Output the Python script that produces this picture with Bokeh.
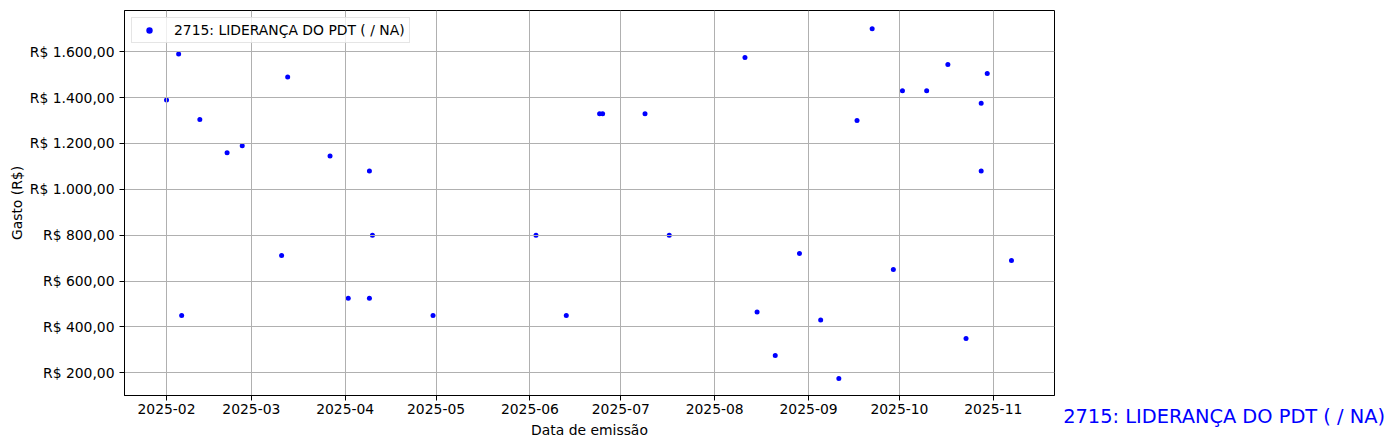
import pandas as pd
from bokeh.plotting import figure
from bokeh.layouts import row
from bokeh.models import (ColumnDataSource, FixedTicker, DatetimeTickFormatter, Range1d, Label)
from bokeh.embed import file_html
from bokeh.resources import INLINE

series_name = "2715: LIDERANÇA DO PDT ( / NA)"

dates = [
    "2025-02-01", "2025-02-05", "2025-02-06", "2025-02-12", "2025-02-21",
    "2025-02-26", "2025-03-11", "2025-03-13", "2025-03-27", "2025-04-02",
    "2025-04-09", "2025-04-09", "2025-04-10", "2025-04-30", "2025-06-03",
    "2025-06-13", "2025-06-24", "2025-06-25", "2025-07-09", "2025-07-17",
    "2025-08-11", "2025-08-15", "2025-08-21", "2025-08-29", "2025-09-05",
    "2025-09-11", "2025-09-17", "2025-09-22", "2025-09-29", "2025-10-02",
    "2025-10-10", "2025-10-17", "2025-10-23", "2025-10-28", "2025-10-28",
    "2025-10-30", "2025-11-07",
]
values = [
    1390, 1590, 450, 1305, 1160,
    1190, 712, 1490, 1145, 525,
    1080, 525, 800, 450, 800,
    450, 1330, 1330, 1330, 800,
    1575, 465, 275, 720, 430,
    175, 1300, 1700, 650, 1430,
    1430, 1545, 350, 1375, 1080,
    1505, 690,
]

x_tick_labels = ["2025-02", "2025-03", "2025-04", "2025-05", "2025-06",
                 "2025-07", "2025-08", "2025-09", "2025-10", "2025-11"]
y_ticks = [200, 400, 600, 800, 1000, 1200, 1400, 1600]
y_tick_labels = ["R$ 200,00", "R$ 400,00", "R$ 600,00", "R$ 800,00",
                 "R$ 1.000,00", "R$ 1.200,00", "R$ 1.400,00", "R$ 1.600,00"]

FONT = "DejaVu Sans"
FS = "13.9px"

src = ColumnDataSource(dict(x=pd.to_datetime(dates), y=values))

x_start = pd.Timestamp("2025-01-18 03:00")
x_end = pd.Timestamp("2025-11-21 05:00")

p = figure(
    width=1058, height=440,
    x_axis_type="datetime",
    x_range=Range1d(x_start, x_end),
    y_range=Range1d(101, 1780),
    output_backend="svg", toolbar_location=None,
    min_border_left=124, min_border_top=10, min_border_right=4, min_border_bottom=45,
    background_fill_color="white", border_fill_color="white",
)

r = p.scatter("x", "y", source=src, size=5, fill_color="blue", line_color=None,
              legend_label=series_name, level="image")

x_ticks = [pd.Timestamp(m + "-01").value / 1e6 for m in x_tick_labels]
p.xaxis.ticker = FixedTicker(ticks=x_ticks)
p.xaxis.formatter = DatetimeTickFormatter(days="%Y-%m", months="%Y-%m", years="%Y-%m",
                                          hours="%Y-%m", minutes="%Y-%m")
p.yaxis.ticker = FixedTicker(ticks=y_ticks)
p.yaxis.major_label_overrides = {t: l for t, l in zip(y_ticks, y_tick_labels)}

for ax in (p.xaxis[0], p.yaxis[0]):
    ax.major_label_text_font = FONT
    ax.major_label_text_font_size = FS
    ax.major_label_text_color = "black"
    ax.axis_label_text_font = FONT
    ax.axis_label_text_font_size = FS
    ax.axis_label_text_font_style = "normal"
    ax.axis_label_text_color = "black"
    ax.major_tick_out = 5
    ax.major_tick_in = 0
    ax.minor_tick_out = 0
    ax.minor_tick_in = 0
    ax.axis_line_color = "black"
    ax.major_tick_line_color = "black"

p.xaxis.axis_label = "Data de emissão"
p.yaxis.axis_label = "Gasto (R$)"
p.xaxis.major_label_standoff = 3
p.xaxis.axis_label_standoff = 5
p.yaxis.major_label_standoff = 5
p.yaxis.axis_label_standoff = 2

p.grid.grid_line_color = "#b0b0b0"
p.grid.grid_line_width = 1
p.outline_line_color = "black"
p.outline_line_width = 1

lg = p.legend[0]
lg.location = "top_left"
lg.margin = 7
lg.padding = 4
lg.spacing = 0
lg.glyph_width = 26
lg.glyph_height = 16
lg.label_height = 16
lg.label_standoff = 12
lg.label_text_font = FONT
lg.label_text_font_size = FS
lg.label_text_color = "black"
lg.border_line_color = "#cccccc"
lg.border_line_width = 1
lg.background_fill_alpha = 0.8

# figure-level caption at the bottom right, in a narrow companion panel
cap = figure(frame_width=330, frame_height=440, output_backend="svg", toolbar_location=None,
             x_axis_location=None, y_axis_location=None,
             x_range=Range1d(0, 1), y_range=Range1d(0, 1),
             min_border_left=0, min_border_right=0, min_border_top=0, min_border_bottom=0,
             background_fill_color="white", border_fill_color="white")
if hasattr(cap, "frame_align"):
    cap.frame_align = False
    p.frame_align = False
cap.outline_line_color = None
cap.grid.visible = False
cap.add_layout(Label(x=4.7, y=24, x_units="screen", y_units="screen",
                     text=series_name, text_color="blue", text_font=FONT,
                     text_font_size="19.4px", text_baseline="alphabetic"))

layout = row(p, cap, spacing=0)
open("out.html", "w").write(file_html(layout, INLINE))
